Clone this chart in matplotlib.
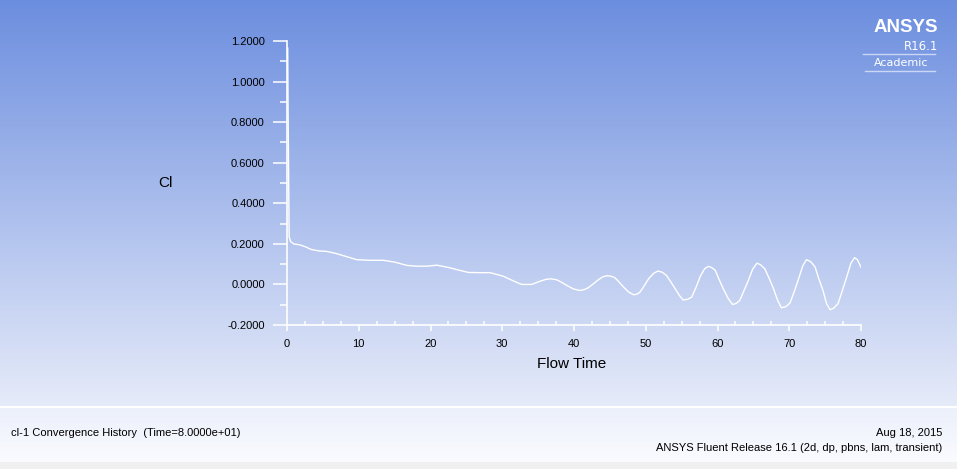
import numpy as np
import matplotlib.pyplot as plt
from matplotlib.ticker import MultipleLocator, FormatStrFormatter

plt.rcParams['font.family'] = ['Liberation Sans', 'DejaVu Sans']

# cl-1 history
flow_time = [0.1, 0.15, 0.3, 0.5, 0.9, 1.8, 2.6, 3.4, 4.5, 5.5, 6.9, 8.3, 9.7,
             11.5, 13.4, 15.0, 16.7, 18.0, 19.5, 20.9, 22.7, 24.0, 25.3, 26.8,
             28.3, 30.1, 31.5, 32.7, 34.1,
             35.3, 36.0, 36.7, 37.6, 38.3, 39.0, 39.9, 40.8, 41.4, 42.0, 42.7,
             43.4, 44.0, 44.6, 45.2, 45.7, 46.3, 46.9, 47.6, 48.3, 48.8, 49.2,
             49.8, 50.4, 51.1, 51.7, 52.3, 52.9, 53.5, 54.1, 54.7, 55.2, 55.8,
             56.4, 57.0, 57.6, 58.2, 58.7, 59.2, 59.7, 60.2, 60.8, 61.5, 62.1,
             62.6, 63.1, 63.7, 64.3, 64.9, 65.5, 66.0, 66.6, 67.2, 67.8, 68.4,
             68.9, 69.5, 70.1, 70.7, 71.3, 71.9, 72.4, 73.0, 73.6, 74.1, 74.7,
             75.2, 75.7, 76.2, 76.8, 77.4, 78.0, 78.6, 79.1, 79.5, 80.0]
cl = [1.165, 0.87, 0.235, 0.212, 0.200, 0.195, 0.185, 0.172, 0.165, 0.163,
      0.152, 0.137, 0.122, 0.119, 0.119, 0.110, 0.094, 0.090, 0.090, 0.095,
      0.082, 0.070, 0.059, 0.058, 0.058, 0.041, 0.018, 0.0, 0.0,
      0.016, 0.024, 0.028, 0.023, 0.010, -0.005, -0.022, -0.030, -0.026,
      -0.016, 0.003, 0.023, 0.037, 0.043, 0.040, 0.033, 0.011, -0.013,
      -0.037, -0.051, -0.048, -0.038, -0.006, 0.028, 0.055, 0.066, 0.060,
      0.044, 0.012, -0.021, -0.055, -0.076, -0.074, -0.063, -0.015, 0.040,
      0.077, 0.089, 0.083, 0.069, 0.026, -0.021, -0.070, -0.099, -0.094,
      -0.079, -0.030, 0.020, 0.075, 0.105, 0.097, 0.077, 0.030, -0.021,
      -0.080, -0.115, -0.110, -0.092, -0.035, 0.028, 0.093, 0.122, 0.112,
      0.086, 0.030, -0.030, -0.095, -0.125, -0.117, -0.095, -0.030, 0.036,
      0.105, 0.132, 0.122, 0.085]

W, H = 957, 469
fig = plt.figure(figsize=(W / 100, H / 100), dpi=100)

# background: blue gradient, footer panel, grey strip
bg = fig.add_axes([0, 0, 1, 1], zorder=-10)
img = np.zeros((H, W, 3))
top = np.array([108, 142, 223]) / 255
bot = np.array([230, 235, 249]) / 255
f = np.linspace(0, 1, 406)[:, None]
img[:406] = (top + (bot - top) * f)[:, None, :]
img[406:408] = 1.0
pf = np.linspace(0, 1, 54)[:, None]
p0 = np.array([236, 240, 251]) / 255
p1 = np.array([250, 251, 255]) / 255
img[408:462] = (p0 + (p1 - p0) * pf)[:, None, :]
img[462:] = 240 / 255
bg.imshow(img, aspect='auto', extent=[0, W, H, 0])
bg.set_xlim(0, W)
bg.set_ylim(H, 0)
bg.axis('off')

ax = fig.add_axes([287 / W, 1 - 325 / H, 574 / W, 284 / H])
ax.patch.set_alpha(0)
ax.plot(flow_time, cl, color='white', lw=1.0)
ax.set_xlim(0, 80)
ax.set_ylim(-0.2, 1.2)
for s in ['top', 'right']:
    ax.spines[s].set_visible(False)
for s in ['left', 'bottom']:
    ax.spines[s].set_color('white')
    ax.spines[s].set_linewidth(1.2)
ax.xaxis.set_major_locator(MultipleLocator(10))
ax.xaxis.set_minor_locator(MultipleLocator(2.5))
ax.yaxis.set_major_locator(MultipleLocator(0.2))
ax.yaxis.set_minor_locator(MultipleLocator(0.1))
ax.yaxis.set_major_formatter(FormatStrFormatter('%.4f'))
ax.tick_params(axis='y', which='major', length=10, width=1.1, color='white',
               labelsize=8, pad=6)
ax.tick_params(axis='y', which='minor', length=5, width=1.1, color='white')
ax.tick_params(axis='x', which='major', length=4, width=1.1, color='white',
               labelsize=8, pad=6)
ax.tick_params(axis='x', which='minor', direction='in', length=3, width=1.1,
               color='white')

fig.text(165 / W, 1 - 183 / H, 'Cl', fontsize=11, ha='center', va='center')
fig.text(572 / W, 1 - 364 / H, 'Flow Time', fontsize=11, ha='center',
         va='center')

# logo
fig.text(938 / W, 1 - 28 / H, 'ANSYS', fontsize=13.5, fontweight='bold',
         color='white', ha='right', va='center')
fig.text(938 / W, 1 - 46 / H, 'R16.1', fontsize=8.5, color='white',
         ha='right', va='center', family='DejaVu Sans')
fig.text(928 / W, 1 - 63 / H, 'Academic', fontsize=8, color='white',
         ha='right', va='center', family='DejaVu Sans')
fig.add_artist(plt.Line2D([863 / W, 935 / W], [1 - 54 / H, 1 - 54 / H],
                          color='white', lw=1, alpha=0.6))
fig.add_artist(plt.Line2D([865 / W, 935 / W], [1 - 71 / H, 1 - 71 / H],
                          color='white', lw=1, alpha=0.6))

# footer
fig.text(11 / W, 1 - 433 / H, 'cl-1 Convergence History  (Time=8.0000e+01)',
         fontsize=8, ha='left', va='center')
fig.text(942 / W, 1 - 433 / H, 'Aug 18, 2015', fontsize=8, ha='right',
         va='center')
fig.text(942 / W, 1 - 448 / H,
         'ANSYS Fluent Release 16.1 (2d, dp, pbns, lam, transient)',
         fontsize=8, ha='right', va='center')

fig.savefig('out.png', dpi=100)
